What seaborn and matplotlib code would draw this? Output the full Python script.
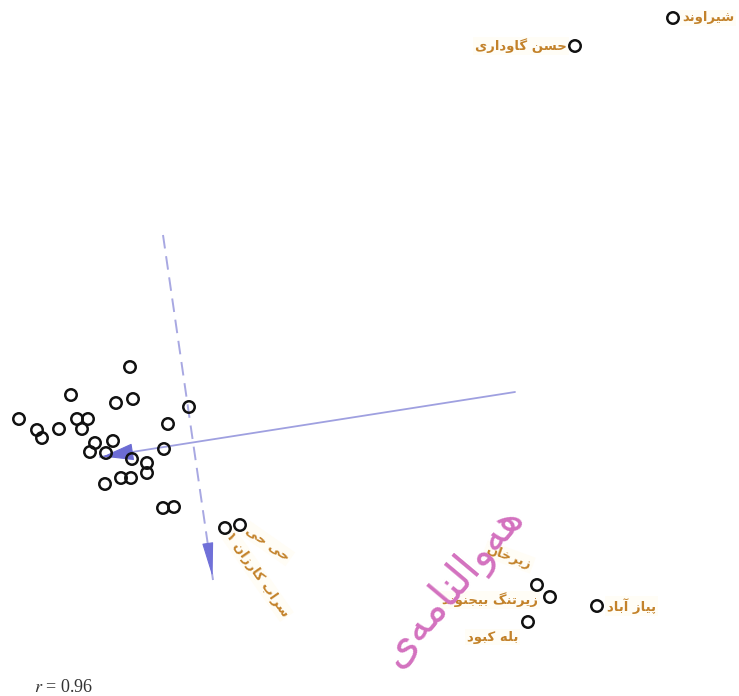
import matplotlib
matplotlib.use("Agg")
import matplotlib.pyplot as plt
import seaborn as sns
import pandas as pd

# ---------------- data (biplot scores) ----------------
site_x = [6.73, 5.75, 5.97, 5.28, 5.50, 5.37, 2.25, 2.40,
          1.30, 0.71, 1.16, 1.33, 1.89, 0.19, 0.77, 0.88, 0.82, 0.37, 0.42, 0.59,
          1.68, 0.95, 1.13, 0.90, 1.06, 1.32, 1.64, 1.47, 1.47, 1.21, 1.31, 1.05,
          1.63, 1.74]
site_y = [6.78, 6.50, 0.90, 0.74, 0.99, 1.11, 1.68, 1.71,
          3.29, 3.01, 2.93, 2.97, 2.89, 2.77, 2.77, 2.77, 2.67, 2.66, 2.58, 2.67,
          2.72, 2.53, 2.55, 2.44, 2.43, 2.37, 2.47, 2.33, 2.23, 2.18, 2.18, 2.12,
          1.88, 1.89]

label_text = ['شیراوند', 'حسن گاوداری', 'پیاز آباد', 'بله کبود',
              'زیرتنگ بیجنوند', 'زیرخان', 'حی حی', 'سراب کارزان ۱']
label_x = [6.82, 5.67, 6.07, 5.18, 5.38, 5.31, 2.47, 2.28]
label_y = [6.78, 6.50, 0.90, 0.59, 0.96, 1.31, 1.67, 1.63]
label_ha = ['left', 'right', 'left', 'right', 'right', 'right', 'left', 'left']
label_rot = [0, 0, 0, 0, 0, -20, -35, -55]

# variable vectors (start -> end)
solid_vec = [(5.15, 3.04), (1.00, 2.39)]
dashed_vec = [(1.63, 4.61), (2.13, 1.16)]

r_text = r"$\it{r}$ = 0.96"
watermark = "هەواڵنامەی"

# ---------------- minimal Arabic-script shaping ----------------
FORMS = {
    '\u0627': ('\uFE8D', '\uFE8E', None, None),
    '\u0622': ('\uFE81', '\uFE82', None, None),
    '\u0628': ('\uFE8F', '\uFE90', '\uFE91', '\uFE92'),
    '\u067E': ('\uFB56', '\uFB57', '\uFB58', '\uFB59'),
    '\u062A': ('\uFE95', '\uFE96', '\uFE97', '\uFE98'),
    '\u062C': ('\uFE9D', '\uFE9E', '\uFE9F', '\uFEA0'),
    '\u062D': ('\uFEA1', '\uFEA2', '\uFEA3', '\uFEA4'),
    '\u062E': ('\uFEA5', '\uFEA6', '\uFEA7', '\uFEA8'),
    '\u062F': ('\uFEA9', '\uFEAA', None, None),
    '\u0631': ('\uFEAD', '\uFEAE', None, None),
    '\u0632': ('\uFEAF', '\uFEB0', None, None),
    '\u0633': ('\uFEB1', '\uFEB2', '\uFEB3', '\uFEB4'),
    '\u0634': ('\uFEB5', '\uFEB6', '\uFEB7', '\uFEB8'),
    '\u06A9': ('\uFB8E', '\uFB8F', '\uFB90', '\uFB91'),
    '\u06AF': ('\uFB92', '\uFB93', '\uFB94', '\uFB95'),
    '\u0644': ('\uFEDD', '\uFEDE', '\uFEDF', '\uFEE0'),
    '\u06B5': ('\uFEDD', '\uFEDE', '\uFEDF', '\uFEE0'),
    '\u0645': ('\uFEE1', '\uFEE2', '\uFEE3', '\uFEE4'),
    '\u0646': ('\uFEE5', '\uFEE6', '\uFEE7', '\uFEE8'),
    '\u0648': ('\uFEED', '\uFEEE', None, None),
    '\u0647': ('\uFEE9', '\uFEEA', '\uFEEB', '\uFEEC'),
    '\u06D5': ('\uFEE9', '\uFEEA', None, None),
    '\u06CC': ('\uFBFC', '\uFBFD', '\uFBFE', '\uFBFF'),
}


def shape(text):
    chars = list(text)
    out = []
    for i, c in enumerate(chars):
        if c not in FORMS:
            out.append(c)
            continue
        prev = chars[i - 1] if i > 0 else None
        nxt = chars[i + 1] if i + 1 < len(chars) else None
        jp = prev in FORMS and FORMS[prev][2] is not None
        jn = nxt in FORMS and FORMS[c][2] is not None
        iso, fin, ini, med = FORMS[c]
        if jp and jn:
            out.append(med)
        elif jp:
            out.append(fin)
        elif jn:
            out.append(ini)
        else:
            out.append(iso)
    return ''.join(reversed(out))


# ---------------- figure ----------------
sns.set_theme(style="white")
plt.rcParams['font.family'] = ['DejaVu Sans']
plt.rcParams['mathtext.fontset'] = 'stix'

fig = plt.figure(figsize=(7.39, 6.96), dpi=100)
ax = fig.add_axes([0, 0, 1, 1])

# variable vectors
ax.plot([solid_vec[0][0], solid_vec[1][0]], [solid_vec[0][1], solid_vec[1][1]],
        color='#9fa0e0', lw=1.3, zorder=1)
ax.annotate('', xy=solid_vec[1], xytext=(solid_vec[1][0] + 0.3, solid_vec[1][1] + 0.047),
            arrowprops=dict(arrowstyle='-|>,head_length=20,head_width=5.5',
                            mutation_scale=1, color='#6c6cd4', lw=0.8), zorder=2)
ax.plot([dashed_vec[0][0], dashed_vec[1][0]], [dashed_vec[0][1], dashed_vec[1][1]],
        color='#a8a8e2', lw=1.4, ls=(0, (7, 4)), zorder=1)
ax.annotate('', xy=dashed_vec[1], xytext=(dashed_vec[1][0] - 0.043, dashed_vec[1][1] + 0.3),
            arrowprops=dict(arrowstyle='-|>,head_length=22,head_width=3.5',
                            mutation_scale=1, color='#7070d8', lw=0.8), zorder=2)

df = pd.DataFrame({'x': site_x, 'y': site_y})
sns.scatterplot(data=df, x='x', y='y', ax=ax, s=68, marker='o',
                facecolor='none', edgecolor='#111111', linewidth=1.8, zorder=3,
                legend=False)
ax.set_xlim(0, 7.39)
ax.set_ylim(0, 6.96)
ax.axis('off')

for t, x, y, ha, rot in zip(label_text, label_x, label_y, label_ha, label_rot):
    ax.text(x, y, shape(t), ha=ha, va='center', rotation=rot, rotation_mode='anchor',
            fontsize=9.5, fontweight='bold', color='#c3822a', zorder=2.5,
            bbox=dict(boxstyle='square,pad=0.15', fc='#fffcf0', ec='none', alpha=0.6))

ax.text(0.34, 0.08, r_text, ha='left', va='center', fontsize=13,
        family='Liberation Serif', color='#333333')

ax.text(5.15, 1.86, shape(watermark), ha='right', va='center', rotation=50,
        rotation_mode='anchor', fontsize=31, color='#d371bf', zorder=5)

fig.savefig('out.png', dpi=100)
